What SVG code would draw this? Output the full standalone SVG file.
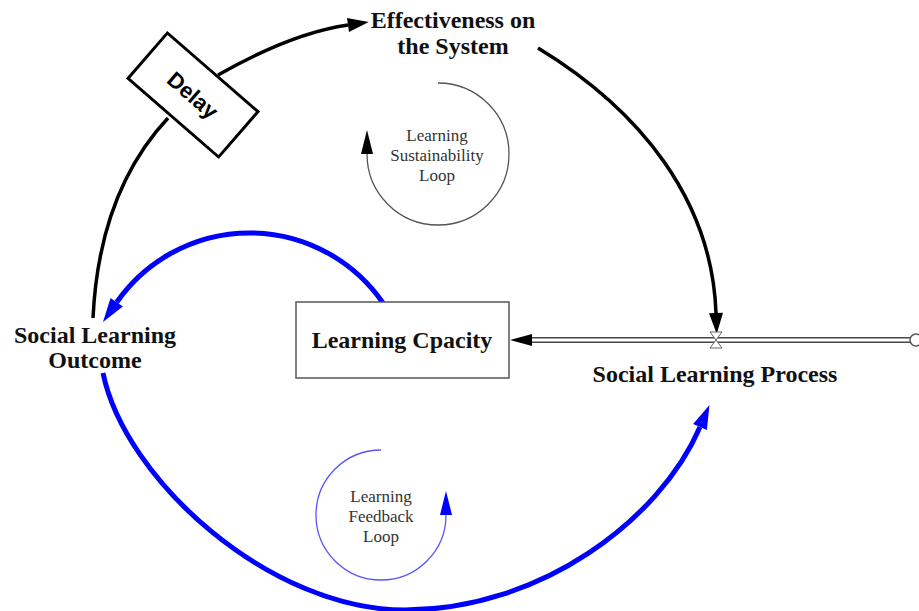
<svg xmlns="http://www.w3.org/2000/svg" width="919" height="611" viewBox="0 0 919 611">
  <style>
    .lbl { font-family: "Liberation Serif", "Times New Roman", serif; font-weight: bold; font-size: 24px; fill: #111; text-anchor: middle; }
    .loop { font-family: "Liberation Serif", "Times New Roman", serif; font-size: 17px; fill: #333; text-anchor: middle; }
    .link { fill: none; stroke: #000; stroke-width: 3.5; }
    .blue { fill: none; stroke: #0000ff; stroke-width: 5; }
    .box { fill: #fff; stroke: #555; stroke-width: 1.5; }
  </style>
  <defs>
    <marker id="arrowBlack" markerUnits="userSpaceOnUse" markerWidth="24" markerHeight="16" refX="0" refY="7" orient="auto" overflow="visible">
      <path d="M0,0 L21,7 L0,14 z" fill="#000"/>
    </marker>
    <marker id="arrowBlue" markerUnits="userSpaceOnUse" markerWidth="26" markerHeight="18" refX="0" refY="7.5" orient="auto" overflow="visible">
      <path d="M0,0 L24,7.5 L0,15 z" fill="#0000ff"/>
    </marker>
    <marker id="arrowGrey" markerUnits="userSpaceOnUse" markerWidth="26" markerHeight="14" refX="0" refY="6" orient="auto" overflow="visible">
      <path d="M0,0 L24,6 L0,12 z" fill="#000"/>
    </marker>
    <marker id="arrowLoopBlue" markerUnits="userSpaceOnUse" markerWidth="26" markerHeight="14" refX="0" refY="6" orient="auto" overflow="visible">
      <path d="M0,0 L24,6 L0,12 z" fill="#0000ff"/>
    </marker>
  </defs>

  <rect width="919" height="611" fill="#fff"/>

  <!-- connectors -->
  <g id="connectors">
    <!-- outcome up into the delay -->
    <path class="link" d="M93,318 Q99,192 168,118"/>
    <!-- delay to effectiveness -->
    <path class="link" d="M218,75 Q292,33 348,25" marker-end="url(#arrowBlack)"/>
    <!-- effectiveness to the flow valve -->
    <path class="link" d="M538,48 C640,110 712,200 716,313" marker-end="url(#arrowBlack)"/>
    <!-- capacity to outcome -->
    <path class="blue" d="M383,303 A162,162 0 0 0 116.7,302.3" marker-end="url(#arrowBlue)"/>
    <!-- outcome to process -->
    <path class="blue" d="M103,373 C125,480 270,610 405,610 C540,610 660,520 700,427" marker-end="url(#arrowBlue)"/>
  </g>

  <!-- flow pipe into the stock -->
  <g id="flow">
    <line x1="530" y1="340" x2="911" y2="340" stroke="#444" stroke-width="6"/>
    <line x1="530" y1="340" x2="911" y2="340" stroke="#fff" stroke-width="3"/>
    <polygon points="510,340 532,334 532,346" fill="#000"/>
    <circle cx="916" cy="340" r="6" fill="#fff" stroke="#555" stroke-width="1.5"/>
    <polygon points="710,332 722,332 716,340" fill="#fff" stroke="#666" stroke-width="1"/>
    <polygon points="716,340 710,348 722,348" fill="#fff" stroke="#666" stroke-width="1"/>
  </g>

  <g id="effectiveness">
    <text class="lbl" x="453" y="28">Effectiveness on</text>
    <text class="lbl" x="453" y="54">the System</text>
  </g>

  <g id="delay" transform="translate(193,95) rotate(41)">
    <rect x="-60" y="-30" width="120" height="60" fill="#fff" stroke="#000" stroke-width="3"/>
    <text x="0" y="8" font-family="Liberation Sans, Arial, sans-serif" font-weight="bold" font-size="22" fill="#000" text-anchor="middle">Delay</text>
  </g>

  <g id="outcome">
    <text class="lbl" x="95" y="343">Social Learning</text>
    <text class="lbl" x="95" y="368">Outcome</text>
  </g>

  <g id="capacity">
    <rect class="box" x="296" y="302" width="213" height="76"/>
    <text class="lbl" x="402" y="348">Learning Cpacity</text>
  </g>

  <g id="process">
    <text class="lbl" x="715" y="382">Social Learning Process</text>
  </g>

  <g id="sustainability-loop">
    <path d="M438,83 A71,71 0 1 1 367,154" fill="none" stroke="#555" stroke-width="1.3" marker-end="url(#arrowGrey)"/>
    <text class="loop" x="437" y="141">Learning</text>
    <text class="loop" x="437" y="161">Sustainability</text>
    <text class="loop" x="437" y="181">Loop</text>
  </g>

  <g id="feedback-loop">
    <path d="M381,450 A65,65 0 1 0 446,515" fill="none" stroke="#5555ff" stroke-width="1.3" marker-end="url(#arrowLoopBlue)"/>
    <text class="loop" x="381" y="502">Learning</text>
    <text class="loop" x="381" y="522">Feedback</text>
    <text class="loop" x="381" y="542">Loop</text>
  </g>
</svg>
